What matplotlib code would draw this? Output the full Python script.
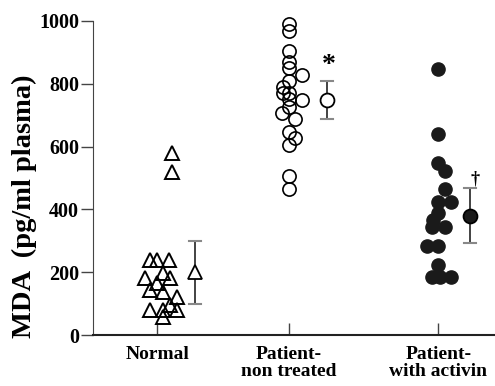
import matplotlib.pyplot as plt
import numpy as np

plt.rcParams['font.family'] = ['Liberation Serif', 'DejaVu Serif']
plt.rcParams['font.weight'] = 'bold'

# grupos
grupos = ['Normal', 'Patient-\nnon treated', 'Patient-\nwith activin']
pos_grupos = [1.0, 2.0, 3.13]

# valores individuais (pg/ml) e deslocamento horizontal (px)
normal_y = [240, 240, 240, 182, 197, 182, 166, 143, 137, 121, 80, 80, 80, 96, 57, 580, 520]
normal_dx = [-7, 0, 12, -12, 6, 13, 0, -7, 6, 20, -7, 6, 20, 13, 6, 15, 15]

nao_tratado_y = [990, 968, 904, 869, 850, 828, 809, 790, 771, 771, 752, 748, 726,
                 707, 688, 646, 627, 605, 506, 465]
nao_tratado_dx = [0, 0, 0, 0, 0, 13, 0, -6, -6, 0, 0, 13, 0, -7, 6, 0, 6, 0, 0, 0]

activina_y = [848, 640, 548, 522, 465, 424, 424, 389, 366, 344, 344, 283, 283, 223, 185, 185, 185]
activina_dx = [0, 0, 0, 7, 7, 0, 13, 0, -5, -6, 7, -11, 0, 0, -6, 2, 13]

# media e erro
medias = [200, 748, 380]
erros = [100, 59, 88]
marcas = ['*', '\u2020']

px = 132.0  # pixels por unidade no eixo x

fig = plt.figure(figsize=(4.95, 3.86), dpi=100)
ax = fig.add_axes([0.188, 0.132, 0.812, 0.814])

ax.plot(pos_grupos[0] + np.array(normal_dx) / px, normal_y, '^', ms=9.5,
        mfc='none', mec='black', mew=1.4, clip_on=False)
ax.plot(pos_grupos[1] + np.array(nao_tratado_dx) / px, nao_tratado_y, 'o', ms=9.5,
        mfc='none', mec='black', mew=1.2, clip_on=False)
ax.plot(pos_grupos[2] + np.array(activina_dx) / px, activina_y, 'o', ms=9.5,
        mfc='#1a1a1a', mec='#1a1a1a', clip_on=False)

offs = [38, 38, 32]
estilos = [('^', 'white'), ('o', 'white'), ('o', '#1a1a1a')]
for i in range(3):
    xm = pos_grupos[i] + offs[i] / px
    ax.errorbar(xm, medias[i], yerr=erros[i], fmt='none', ecolor='#222222',
                elinewidth=1.2, capsize=0)
    ax.plot([xm - 6 / px, xm + 6 / px], [medias[i] - erros[i]] * 2, color='#888888', lw=1.5)
    ax.plot([xm - 6 / px, xm + 6 / px], [medias[i] + erros[i]] * 2, color='#888888', lw=1.5)
    m, fc = estilos[i]
    ax.plot(xm, medias[i], m, ms=10, mfc=fc, mec='black', mew=1.3, zorder=3)

ax.text(pos_grupos[1] + 40 / px, medias[1] + erros[1] + 12, marcas[0], ha='center',
        va='bottom', fontsize=20, fontweight='bold')
ax.text(pos_grupos[2] + 37 / px, medias[2] + erros[2] + 2, marcas[1], ha='center',
        va='bottom', fontsize=13, fontweight='bold')

ax.set_xlim(0.515, 3.56)
ax.set_ylim(0, 1000)
ax.set_yticks([0, 200, 400, 600, 800, 1000])
ax.set_xticks(pos_grupos)
ax.set_xticklabels(grupos, fontsize=14, fontweight='bold', linespacing=0.95)
ax.tick_params(axis='y', direction='out', length=9, width=1, color='#444444',
               labelsize=14.5, pad=1)
ax.tick_params(axis='x', direction='in', length=8.5, width=1, color='#444444', pad=8)
for t in ax.get_yticklabels():
    t.set_fontweight('bold')
ax.set_ylabel('MDA  (pg/ml plasma)', fontsize=20.5, fontweight='bold')
ax.yaxis.set_label_coords(-0.14, 0.41)

ax.spines['top'].set_visible(False)
ax.spines['right'].set_visible(False)
ax.spines['left'].set_color('#444444')
ax.spines['bottom'].set_color('#222222')
ax.spines['bottom'].set_linewidth(1.5)

fig.savefig('out.png', dpi=100)
